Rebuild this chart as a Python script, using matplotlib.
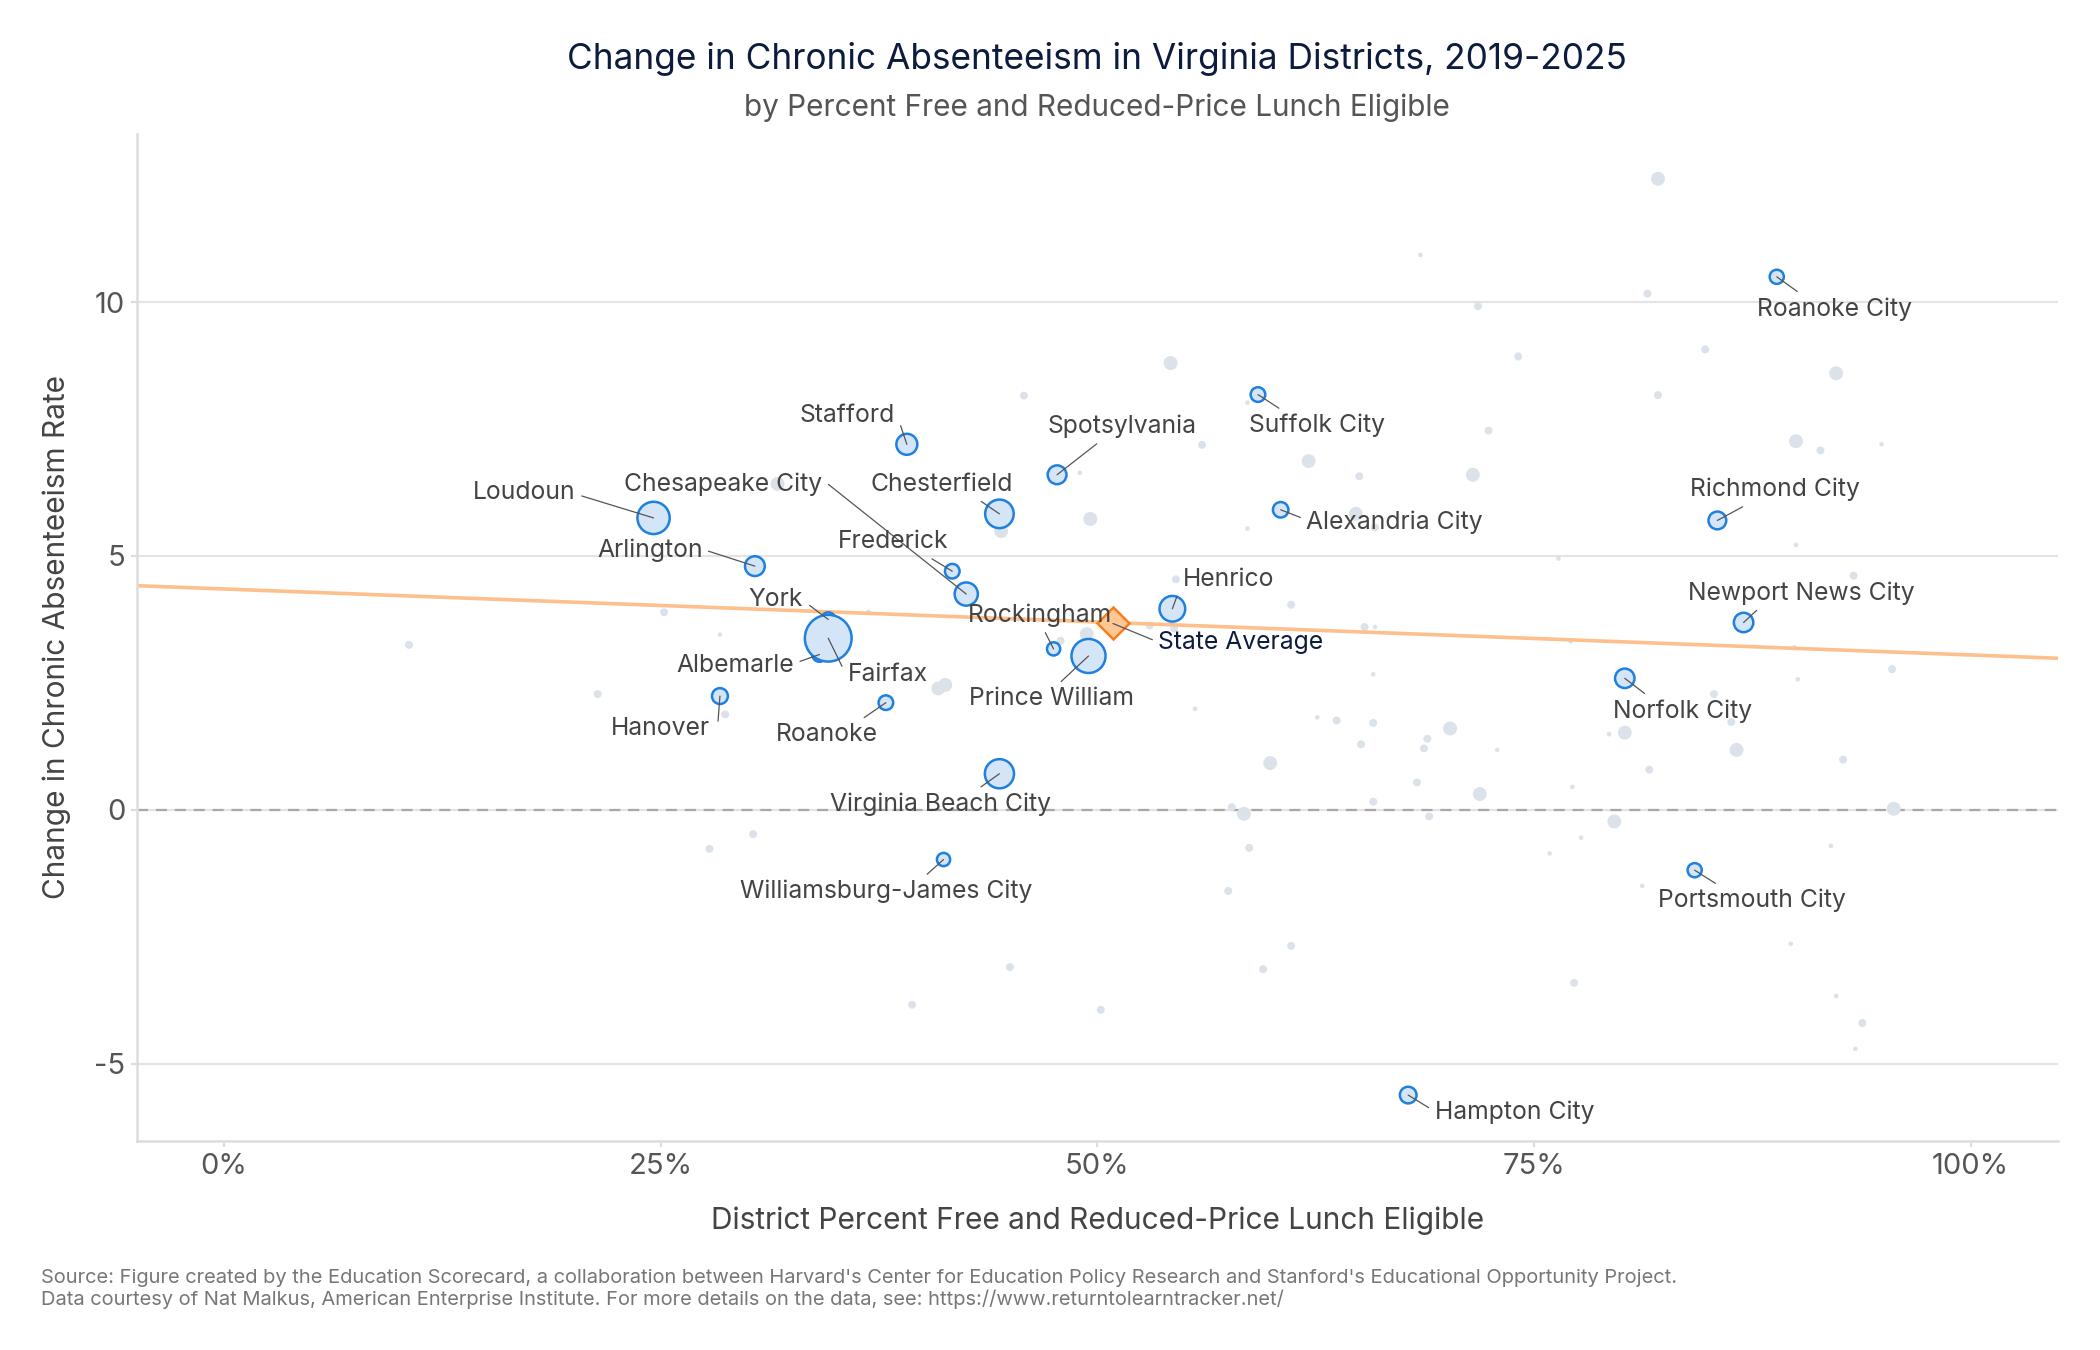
import numpy as np
import matplotlib
matplotlib.use("Agg")
import matplotlib.pyplot as plt
from matplotlib.ticker import FuncFormatter

plt.rcParams['font.family'] = ['Inter', 'DejaVu Sans']
plt.rcParams['axes.unicode_minus'] = False

# labelled districts: % FRL eligible, change in chronic absenteeism, enrollment (thousands)
names = ['Roanoke City', 'Suffolk City', 'Stafford', 'Spotsylvania', 'Alexandria City',
         'Chesterfield', 'Loudoun', 'Chesapeake City', 'Richmond City', 'Arlington',
         'Frederick', 'Henrico', 'York', 'Newport News City', 'Rockingham',
         'Albemarle', 'Fairfax', 'Prince William', 'Norfolk City', 'Hanover',
         'Roanoke', 'Virginia Beach City', 'Williamsburg-James City', 'Portsmouth City',
         'Hampton City']
frl = [88.9, 59.2, 39.1, 47.7, 60.5,
       44.4, 24.6, 42.5, 85.5, 30.4,
       41.7, 54.3, 34.6, 87.0, 47.5,
       34.1, 34.6, 49.5, 80.2, 28.4,
       37.9, 44.4, 41.2, 84.2,
       67.8]
chg = [10.50, 8.18, 7.20, 6.60, 5.91,
       5.83, 5.75, 4.25, 5.70, 4.80,
       4.70, 3.96, 3.75, 3.69, 3.17,
       3.06, 3.38, 3.03, 2.59, 2.24,
       2.11, 0.71, -0.98, -1.19,
       -5.62]
enroll = [13, 14, 32, 25, 16,
          63, 82, 40, 22, 28,
          14, 50, 13, 27, 11,
          14, 180, 92, 27, 17,
          14, 66, 11, 13,
          19]

# all other districts
other_frl = [10.6, 21.4, 25.2, 28.4, 28.7, 27.8, 30.3, 31.7, 36.9, 39.4,
             40.9, 41.3, 44.5, 45.0, 45.8, 47.9, 49.0, 49.4, 49.6, 50.2,
             53.0, 54.2, 54.5, 54.4, 55.6, 56.0, 57.5, 57.7, 58.4, 58.6,
             58.6, 58.7, 59.5, 59.9, 61.1, 61.1, 62.1, 62.6, 63.7, 64.8,
             65.0, 65.1, 65.3, 65.9, 65.8, 65.8, 65.8, 65.9, 68.3, 68.5,
             68.7, 68.9, 69.0, 70.2, 71.5, 71.8, 71.9, 72.4, 72.9, 74.1,
             75.9, 76.4, 77.1, 77.2, 77.3, 77.7, 79.3, 79.6, 80.2, 81.2,
             81.5, 81.6, 82.1, 82.1, 84.8, 85.3, 86.3, 86.6, 89.7, 89.9,
             90.0, 90.0, 90.1, 91.4, 92.0, 92.3, 92.3, 92.7, 93.3, 93.4,
             93.8, 94.9, 95.5, 95.6]
other_chg = [3.25, 2.28, 3.89, 3.45, 1.88, -0.77, -0.48, 6.42, 3.90, -3.84,
             2.39, 2.46, 5.49, -3.10, 8.16, 3.33, 6.64, 3.46, 5.73, -3.94,
             3.63, 8.80, 4.54, 3.58, 1.99, 7.19, -1.60, 0.05, -0.08, 8.02,
             5.54, -0.75, -3.14, 0.92, 4.04, -2.68, 6.87, 1.82, 1.76, 5.83,
             6.57, 1.29, 3.60, 3.60, 2.67, 1.71, 0.16, 5.56, 0.54, 10.93,
             1.21, 1.40, -0.13, 1.60, 6.60, 9.92, 0.31, 7.47, 1.18, 8.93,
             -0.86, 4.95, 3.32, 0.45, -3.41, -0.55, 1.49, -0.23, 1.52, -1.50,
             10.17, 0.79, 12.43, 8.17, 9.07, 2.28, 1.73, 1.18, -2.64, 3.20,
             7.26, 5.22, 2.57, 7.08, -0.71, 8.60, -3.67, 0.99, 4.61, -4.71,
             -4.20, 7.20, 2.77, 0.02]
other_enroll = [2, 2, 2, 0.5, 2, 2, 2, 7, 0.5, 2,
                7, 7, 7, 2, 2, 2, 0.5, 7, 7, 2,
                2, 7, 2, 2, 0.5, 2, 2, 2, 7, 0.5,
                0.5, 2, 2, 7, 2, 2, 7, 0.5, 2, 7,
                2, 2, 2, 0.5, 0.5, 2, 2, 2, 2, 0.5,
                2, 2, 2, 7, 7, 2, 7, 2, 0.5, 2,
                0.5, 0.5, 0.5, 0.5, 2, 0.5, 0.5, 7, 7, 0.5,
                2, 2, 7, 2, 2, 2, 2, 7, 0.5, 0.5,
                7, 0.5, 0.5, 2, 0.5, 7, 0.5, 2, 2, 0.5,
                2, 0.5, 2, 7]

state_frl = 50.9
state_chg = 3.67
trend_intercept = 4.35
trend_slope = -0.013

x_ticks = [0, 25, 50, 75, 100]
y_ticks = [-5, 0, 5, 10]

# label placement: text centre (data coords) and where the leader line leaves the text
label_pos = {
    'Roanoke City': (92.2, 9.87, (0.31, 1.0)),
    'Suffolk City': (62.6, 7.57, (0.28, 1.0)),
    'Stafford': (35.7, 7.76, (1.04, 0.3)),
    'Spotsylvania': (51.4, 7.55, (0.38, 0.0)),
    'Alexandria City': (67.0, 5.67, (0.0, 0.6)),
    'Chesterfield': (41.1, 6.41, (0.72, 0.0)),
    'Loudoun': (17.2, 6.25, (1.06, 0.35)),
    'Chesapeake City': (28.6, 6.41, (1.03, 0.5)),
    'Richmond City': (88.8, 6.31, (0.37, 0.0)),
    'Arlington': (24.4, 5.12, (1.05, 0.45)),
    'Frederick': (38.3, 5.28, (0.77, 0.0)),
    'Henrico': (57.5, 4.54, (-0.03, 0.1)),
    'York': (31.6, 4.14, (1.12, 0.25)),
    'Newport News City': (90.3, 4.27, (0.33, 0.0)),
    'Rockingham': (46.7, 3.83, (0.52, 0.0)),
    'Albemarle': (29.3, 2.85, (1.04, 0.65)),
    'Fairfax': (38.0, 2.66, (-0.06, 0.8)),
    'Prince William': (47.4, 2.19, (0.52, 1.0)),
    'Norfolk City': (83.5, 1.95, (0.28, 1.0)),
    'Hanover': (25.0, 1.61, (1.08, 0.8)),
    'Roanoke': (34.5, 1.48, (0.79, 1.0)),
    'Virginia Beach City': (41.0, 0.11, (0.65, 1.0)),
    'Williamsburg-James City': (37.9, -1.61, (0.62, 1.0)),
    'Portsmouth City': (87.5, -1.79, (0.35, 1.0)),
    'Hampton City': (73.9, -5.96, (-0.04, 0.7)),
}
state_label = (58.2, 3.30, (-0.03, 0.6))

dpi = 200
fig = plt.figure(figsize=(2100 / dpi, 1350 / dpi), dpi=dpi)
ax = fig.add_axes([0.065, 0.155, 0.915, 0.746])


def msize(e, a=1.66, b=1.1):
    r_px = a * np.sqrt(np.asarray(e, dtype=float)) + b
    return (2 * r_px * 72 / dpi) ** 2


ax.set_xlim(-5, 105)
ax.set_ylim(-6.52, 13.32)

for yv in y_ticks:
    ax.axhline(yv, color='#e4e4e4', lw=0.8, zorder=0)
ax.axhline(0, color='#a8a8a8', lw=0.8, ls=(0, (5, 3.5)), zorder=0.5)

ax.scatter(other_frl, other_chg, s=msize(other_enroll, 2.4, 0.6), color='#dce2e9',
           edgecolors='none', zorder=1)

xs = np.array([-5, 105])
ax.plot(xs, trend_intercept + trend_slope * xs, color='#fdbf8c', lw=1.3,
        zorder=1.5, solid_capstyle='butt')

ax.scatter(frl, chg, s=msize(enroll), facecolor='#d3e5f7', edgecolor='#1f80e0',
           linewidths=0.9, zorder=2.5)

ax.plot([state_frl], [state_chg], marker='D', ms=8, mfc='#fdc894', mec='#f57f1f',
        mew=0.9, ls='none', zorder=2.6)

for n, x, y in zip(names, frl, chg):
    tx, ty, rp = label_pos[n]
    ax.annotate(n, xy=(x, y), xytext=(tx, ty), textcoords='data',
                ha='center', va='center', fontsize=8.9, color='#444444',
                arrowprops=dict(arrowstyle='-', color='#555555', lw=0.45,
                                relpos=rp, shrinkA=0, shrinkB=0),
                zorder=3)

tx, ty, rp = state_label
ax.annotate('State Average', xy=(state_frl, state_chg), xytext=(tx, ty),
            textcoords='data', ha='center', va='center', fontsize=8.9,
            color='#0d1b3e',
            arrowprops=dict(arrowstyle='-', color='#555555', lw=0.45,
                            relpos=rp, shrinkA=0, shrinkB=0),
            zorder=3)

for side in ['top', 'right']:
    ax.spines[side].set_visible(False)
for side in ['left', 'bottom']:
    ax.spines[side].set_color('#dddddd')
    ax.spines[side].set_linewidth(0.9)

ax.set_xticks(x_ticks)
ax.set_yticks(y_ticks)
ax.xaxis.set_major_formatter(FuncFormatter(lambda v, p: f'{v:.0f}%'))
ax.yaxis.set_major_formatter(FuncFormatter(lambda v, p: f'{v:.0f}'))
ax.tick_params(axis='both', colors='#dddddd', labelcolor='#555555',
               labelsize=10.5, length=2, width=0.8)
ax.tick_params(axis='x', pad=2.5)
ax.tick_params(axis='y', pad=2)

ax.set_xlabel('District Percent Free and Reduced-Price Lunch Eligible',
              fontsize=10.75, color='#444444', labelpad=9.5)
ax.set_ylabel('Change in Chronic Absenteeism Rate', fontsize=10.75,
              color='#444444', labelpad=8.5)

fig.text(0.5224, 0.956, 'Change in Chronic Absenteeism in Virginia Districts, 2019-2025',
         ha='center', va='center', fontsize=12.7, color='#0d1b3e')
fig.text(0.5224, 0.920, 'by Percent Free and Reduced-Price Lunch Eligible',
         ha='center', va='center', fontsize=10.7, color='#555555')

fig.text(0.0195, 0.0535,
         "Source: Figure created by the Education Scorecard, a collaboration between Harvard's "
         "Center for Education Policy Research and Stanford's Educational Opportunity Project.",
         ha='left', va='center', fontsize=7.22, color='#777777')
fig.text(0.0195, 0.0375,
         "Data courtesy of Nat Malkus, American Enterprise Institute. For more details on the "
         "data, see: https://www.returntolearntracker.net/",
         ha='left', va='center', fontsize=7.22, color='#777777')

fig.savefig('out.png', dpi=dpi, facecolor='white')
